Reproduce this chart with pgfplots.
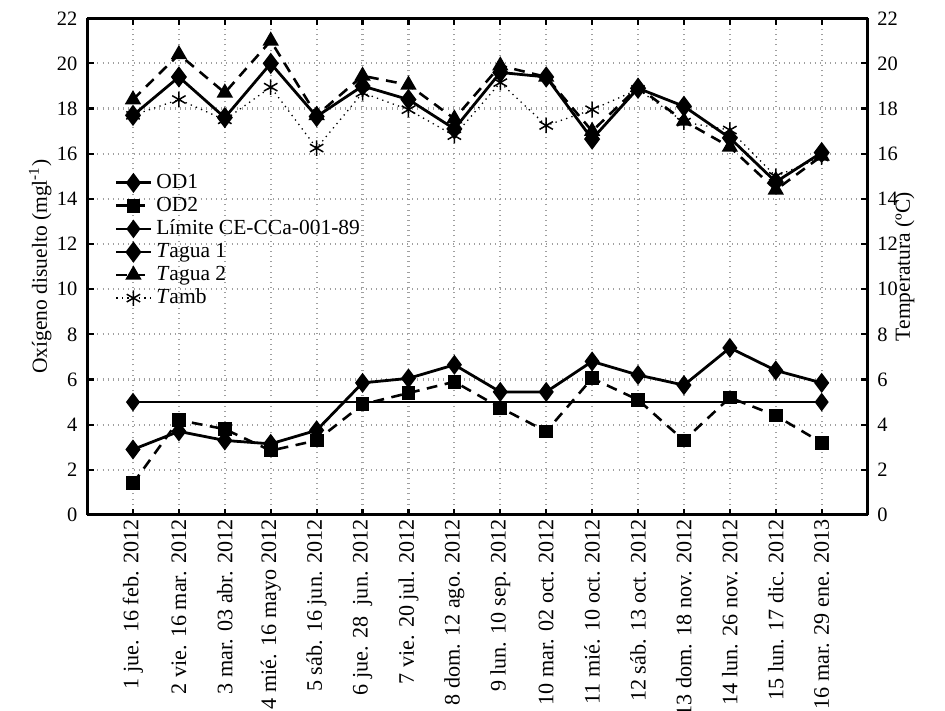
\documentclass[border=0pt]{standalone}
\usepackage{fontspec}
\setmainfont{Liberation Serif}
\usepackage{pgfplots}
\pgfplotsset{compat=1.18}
\begin{document}
\begin{tikzpicture}
\pgfplotsset{
  common/.style={
    scale only axis, width=363pt, height=231pt,
    at={(0,0)}, anchor=south west,
    xmin=0, xmax=17, ymin=0, ymax=22,
    ytick={0,2,...,22},
    tick align=inside,
    major tick length=3pt,
    tick style={line width=1pt, black},
    axis line style={line width=1.4pt},
    /pgf/number format/assume math mode=true,
    yticklabel style={font=\fontsize{9.5}{11}\selectfont},
    ylabel style={font=\fontsize{10}{12}\selectfont},
  }
}
\begin{axis}[common,
  axis y line*=left,
  xtick={1,...,16},
  xticklabels={1 jue. 16 feb. 2012, 2 vie. 16 mar. 2012, 3 mar. 03 abr. 2012, 4 mié. 16 mayo 2012, 5 sáb. 16 jun. 2012, 6 jue. 28\ \ jun. 2012, 7 vie. 20 jul. 2012, 8 dom. 12 ago. 2012, 9 lun. 10 sep. 2012, 10 mar. 02 oct. 2012, 11 mié. 10 oct. 2012, 12 sáb. 13 oct. 2012, 13 dom. 18 nov. 2012, 14 lun. 26 nov. 2012, 15 lun. 17 dic. 2012, 16 mar. 29 ene. 2013},
  xticklabel style={rotate=90, anchor=east, font=\fontsize{10.3}{12}\selectfont, inner sep=2pt},
  yticklabel style={xshift=-1pt},
  grid=major,
  grid style={dotted, gray!75, line width=1pt},
  ylabel={Oxígeno disuelto (mgl\textsuperscript{-1})},
  ylabel style={at={(axis description cs:-0.06,0.5)}, anchor=center},
  legend cell align=left,
  legend style={at={(axis cs:0.55,15.4)}, anchor=north west, draw=none, fill=none,
    font=\fontsize{10}{11}\selectfont, row sep=-1.5pt, inner sep=1pt},
  legend image code/.code={\draw[mark repeat=2,mark phase=2] plot coordinates {(0cm,0cm)(0.28cm,0cm)(0.56cm,0cm)};},
]
% OD1
\addplot[black, line width=1.3pt, mark=diamond*, mark size=3.6pt, mark options={solid}]
coordinates {(1,2.9)(2,3.7)(3,3.3)(4,3.15)(5,3.75)(6,5.85)(7,6.05)(8,6.65)(9,5.45)(10,5.45)(11,6.8)(12,6.2)(13,5.75)(14,7.4)(15,6.4)(16,5.85)};
\addlegendentry{OD1}
% OD2
\addplot[black, line width=1.2pt, dash pattern=on 5pt off 3.5pt, mark=square*, mark size=2.6pt, mark options={solid}]
coordinates {(1,1.4)(2,4.2)(3,3.8)(4,2.85)(5,3.3)(6,4.9)(7,5.4)(8,5.9)(9,4.75)(10,3.7)(11,6.05)(12,5.1)(13,3.3)(14,5.2)(15,4.4)(16,3.2)};
\addlegendentry{OD2}
% Limit
\addplot[black, line width=0.9pt, mark=diamond*, mark size=3.6pt]
coordinates {(1,5.0)(16,5.0)};
\addlegendentry{Límite CE-CCa-001-89}
% Tagua 1
\addplot[black, line width=1.3pt, mark=diamond*, mark size=3.9pt, mark options={solid}]
coordinates {(1,17.7)(2,19.4)(3,17.6)(4,20.0)(5,17.65)(6,19.0)(7,18.4)(8,17.1)(9,19.6)(10,19.4)(11,16.65)(12,18.9)(13,18.1)(14,16.7)(15,14.75)(16,16.05)};
\addlegendentry{\textit{T}agua 1}
% Tagua 2
\addplot[black, line width=1.2pt, dash pattern=on 5pt off 3.5pt, mark=triangle*, mark size=3.2pt, mark options={solid}]
coordinates {(1,18.4)(2,20.4)(3,18.7)(4,21.0)(5,17.7)(6,19.45)(7,19.05)(8,17.55)(9,19.9)(10,19.4)(11,17.0)(12,18.95)(13,17.45)(14,16.3)(15,14.4)(16,15.9)};
\addlegendentry{\textit{T}agua 2}
% Tamb
\addplot[black, line width=0.6pt, dotted, mark=asterisk, mark size=3.6pt, mark options={solid, line width=0.7pt}]
coordinates {(1,17.7)(2,18.4)(3,17.5)(4,18.95)(5,16.25)(6,18.7)(7,17.95)(8,16.8)(9,19.15)(10,17.25)(11,17.95)(12,18.85)(13,17.4)(14,17.05)(15,15.0)(16,15.85)};
\addlegendentry{\textit{T}amb}
\end{axis}
\begin{axis}[common,
  axis y line*=right,
  axis x line=none,
  xtick=\empty,
  yticklabel style={xshift=1pt},
]
\end{axis}
\node[rotate=90, font=\fontsize{10}{12}\selectfont] at (380.3pt,115.5pt) {Temperatura (ºC)};
\pgfresetboundingbox
\path[use as bounding box] (-40.5pt,-91.1pt) rectangle (399pt,239.5pt);
\end{tikzpicture}
\end{document}
